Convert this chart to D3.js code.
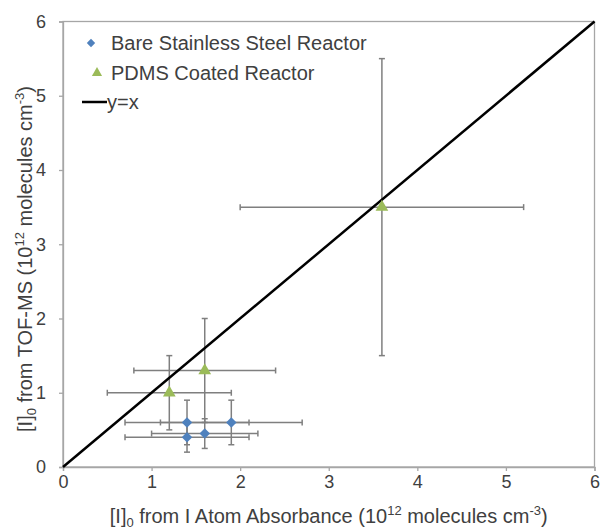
<!DOCTYPE html>
<html>
<head>
<meta charset="utf-8">
<script src="https://cdn.jsdelivr.net/npm/d3@7/dist/d3.min.js"></script>
<style>
  html, body { margin: 0; padding: 0; background: #fff; }
  svg { display: block; font-family: "Liberation Sans", Arial, sans-serif; }
</style>
</head>
<body>
<svg id="chart" width="600" height="529"></svg>
<script>
// Bare stainless steel reactor: [I]0 from absorbance (x) vs TOF-MS (y), with errors
const bareX    = [1.4, 1.9, 1.4, 1.6];
const bareY    = [0.6, 0.6, 0.4, 0.45];
const bareXErr = [0.7, 0.8, 0.7, 0.6];
const bareYErr = [0.3, 0.3, 0.2, 0.2];

// PDMS coated reactor
const pdmsX    = [1.2, 1.6, 3.6];
const pdmsY    = [1.0, 1.3, 3.5];
const pdmsXErr = [0.7, 0.8, 1.6];
const pdmsYErr = [0.5, 0.7, 2.0];

const xTicks = [0, 1, 2, 3, 4, 5, 6];
const yTicks = [0, 1, 2, 3, 4, 5, 6];
const legendLabels = ["Bare Stainless Steel Reactor", "PDMS Coated Reactor", "y=x"];

const svg = d3.select("#chart");
const plot = { left: 63, right: 594.5, top: 21.5, bottom: 467 };

const x = d3.scaleLinear().domain([0, 6]).range([plot.left, plot.right]);
const y = d3.scaleLinear().domain([0, 6]).range([plot.bottom, plot.top]);

const axisColor = "#a6a6a6";
const textColor = "#404040";

// plot-area frame
svg.append("rect")
  .attr("x", plot.left).attr("y", plot.top)
  .attr("width", plot.right - plot.left).attr("height", plot.bottom - plot.top)
  .attr("fill", "none").attr("stroke", axisColor).attr("stroke-width", 1.3);

// axes
const xAxis = svg.append("g")
  .attr("transform", `translate(0,${plot.bottom})`)
  .call(d3.axisBottom(x).tickValues(xTicks).tickFormat(d3.format("d")).tickSizeOuter(0).tickSize(4).tickPadding(4));
const yAxis = svg.append("g")
  .attr("transform", `translate(${plot.left},0)`)
  .call(d3.axisLeft(y).tickValues(yTicks).tickFormat(d3.format("d")).tickSizeOuter(0).tickSize(4).tickPadding(13));
[xAxis, yAxis].forEach(g => {
  g.select(".domain").attr("stroke", axisColor).attr("stroke-width", 1.3);
  g.selectAll(".tick line").attr("stroke", axisColor).attr("stroke-width", 1.3);
  g.selectAll(".tick text").attr("fill", textColor).style("font-size", "18px");
});

// axis titles with sub/superscripts
function addTitle(sel, lab) {
  sel.append("tspan").text("[I]");
  sel.append("tspan").text("0").attr("font-size", "13px").attr("dy", "4");
  sel.append("tspan").text(" from " + lab + " (10").attr("dy", "-4");
  sel.append("tspan").text("12").attr("font-size", "13px").attr("dy", "-8");
  sel.append("tspan").text(" molecules  cm").attr("dy", "8");
  sel.append("tspan").text("-3").attr("font-size", "13px").attr("dy", "-8");
  sel.append("tspan").text(")").attr("dy", "8");
}
const xTitle = svg.append("text")
  .attr("x", (plot.left + plot.right) / 2).attr("y", 523)
  .attr("text-anchor", "middle").attr("fill", textColor).style("font-size", "20px");
addTitle(xTitle, "I Atom Absorbance");
const yTitle = svg.append("text")
  .attr("transform", "translate(32,259) rotate(-90)")
  .attr("text-anchor", "middle").attr("fill", textColor).style("font-size", "20px");
addTitle(yTitle, "TOF-MS");

// error bars
const errColor = "#7f7f7f";
const cap = 3;
function errorBars(xs, ys, xe, ye) {
  const g = svg.append("g").attr("stroke", errColor).attr("stroke-width", 1.5).attr("fill", "none");
  xs.forEach((xv, i) => {
    const yv = ys[i];
    // horizontal
    g.append("line").attr("x1", x(xv - xe[i])).attr("x2", x(xv + xe[i])).attr("y1", y(yv)).attr("y2", y(yv));
    g.append("line").attr("x1", x(xv - xe[i])).attr("x2", x(xv - xe[i])).attr("y1", y(yv) - cap).attr("y2", y(yv) + cap);
    g.append("line").attr("x1", x(xv + xe[i])).attr("x2", x(xv + xe[i])).attr("y1", y(yv) - cap).attr("y2", y(yv) + cap);
    // vertical
    g.append("line").attr("x1", x(xv)).attr("x2", x(xv)).attr("y1", y(yv - ye[i])).attr("y2", y(yv + ye[i]));
    g.append("line").attr("x1", x(xv) - cap).attr("x2", x(xv) + cap).attr("y1", y(yv - ye[i])).attr("y2", y(yv - ye[i]));
    g.append("line").attr("x1", x(xv) - cap).attr("x2", x(xv) + cap).attr("y1", y(yv + ye[i])).attr("y2", y(yv + ye[i]));
  });
}
errorBars(pdmsX, pdmsY, pdmsXErr, pdmsYErr);
errorBars(bareX, bareY, bareXErr, bareYErr);

// y = x reference line
svg.append("line")
  .attr("x1", x(0)).attr("y1", y(0)).attr("x2", x(6)).attr("y2", y(6))
  .attr("stroke", "#000").attr("stroke-width", 2.5);

// markers
const blue = "#4f81bd", green = "#9bbb59";
const diamond = d3.symbol().type(d3.symbolDiamond2).size(70);
const triangle = d3.symbol().type(d3.symbolTriangle).size(70);
svg.append("g").selectAll("path").data(pdmsX).join("path")
  .attr("d", triangle)
  .attr("transform", (d, i) => `translate(${x(d)},${y(pdmsY[i])})`)
  .attr("fill", green);
svg.append("g").selectAll("path").data(bareX).join("path")
  .attr("d", diamond)
  .attr("transform", (d, i) => `translate(${x(d)},${y(bareY[i])})`)
  .attr("fill", blue);

// legend
const lg = svg.append("g").style("font-size", "20px").attr("fill", textColor);
lg.append("path").attr("d", d3.symbol().type(d3.symbolDiamond2).size(45)).attr("transform", "translate(91,43)").attr("fill", blue);
lg.append("text").attr("x", 111).attr("y", 50).text(legendLabels[0]);
lg.append("path").attr("d", d3.symbol().type(d3.symbolTriangle).size(45)).attr("transform", "translate(97,73)").attr("fill", green);
lg.append("text").attr("x", 111).attr("y", 80).text(legendLabels[1]);
lg.append("line").attr("x1", 82).attr("x2", 107).attr("y1", 102).attr("y2", 102).attr("stroke", "#000").attr("stroke-width", 2.5);
lg.append("text").attr("x", 107).attr("y", 109).text(legendLabels[2]);
</script>
</body>
</html>
